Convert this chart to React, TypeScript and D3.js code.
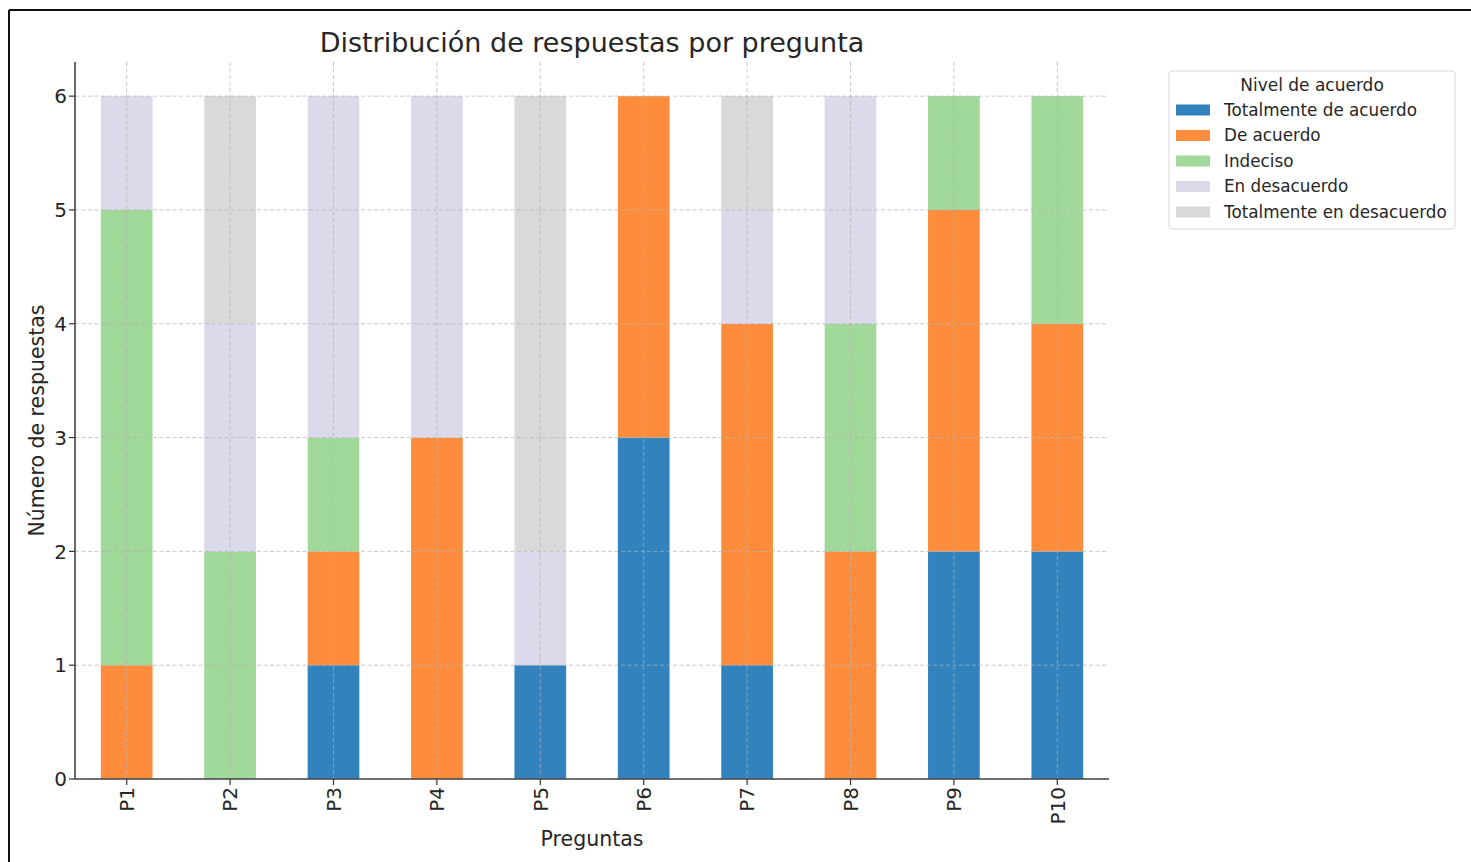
import React from "react";
import * as d3 from "d3";

const questions = ["P1", "P2", "P3", "P4", "P5", "P6", "P7", "P8", "P9", "P10"];
const levels = [
  "Totalmente de acuerdo",
  "De acuerdo",
  "Indeciso",
  "En desacuerdo",
  "Totalmente en desacuerdo",
];
const totalmenteDeAcuerdo = [0, 0, 1, 0, 1, 3, 1, 0, 2, 2];
const deAcuerdo = [1, 0, 1, 3, 0, 3, 3, 2, 3, 2];
const indeciso = [4, 2, 1, 0, 0, 0, 0, 2, 1, 2];
const enDesacuerdo = [1, 2, 3, 3, 1, 0, 1, 2, 0, 0];
const totalmenteEnDesacuerdo = [0, 2, 0, 0, 4, 0, 1, 0, 0, 0];
const colors = ["#3182bd", "#fd8d3c", "#a1d99b", "#dadaeb", "#d9d9d9"];
const yTicks = [0, 1, 2, 3, 4, 5, 6];

const series = [totalmenteDeAcuerdo, deAcuerdo, indeciso, enDesacuerdo, totalmenteEnDesacuerdo];

export default function App() {
  const W = 1471, H = 862;
  const left = 75, right = 1109, top = 62, bottom = 779;
  const x = d3.scaleLinear().domain([-0.5, questions.length - 0.5]).range([left, right]);
  const y = d3.scaleLinear().domain([0, 6.3]).range([bottom, top]);
  const bw = (x(0.25) - x(-0.25));
  const rows = questions.map((q, i) => {
    const o: any = { q };
    levels.forEach((l, k) => (o[l] = series[k][i]));
    return o;
  });
  const stacked = d3.stack().keys(levels)(rows);
  const font = "DejaVu Sans, sans-serif";
  const txt = "#262626";
  return (
    <svg width={W} height={H} style={{ position: "absolute", left: 0, top: 0 }} fontFamily={font}>
      <rect x={0} y={0} width={W} height={H} fill="#fff" />
      {/* bars */}
      {stacked.map((s, k) => (
        <g key={k} fill={colors[k]}>
          {s.map((d, i) =>
            d[1] - d[0] > 0 ? (
              <rect key={i} x={x(i) - bw / 2} y={y(d[1])} width={bw} height={y(d[0]) - y(d[1])} />
            ) : null
          )}
        </g>
      ))}
      {/* grid */}
      <g stroke="#b0b0b0" strokeOpacity={0.7} strokeWidth={1} strokeDasharray="4,2.5">
        {yTicks.map((t) => (
          <line key={"gy" + t} x1={left} x2={right} y1={y(t)} y2={y(t)} />
        ))}
        {questions.map((q, i) => (
          <line key={"gx" + i} x1={x(i)} x2={x(i)} y1={top} y2={bottom} />
        ))}
      </g>
      {/* spines */}
      <line x1={left} x2={left} y1={top} y2={bottom} stroke="#444" strokeWidth={1.6} />
      <line x1={left} x2={right} y1={bottom} y2={bottom} stroke="#444" strokeWidth={1.6} />
      {/* y ticks */}
      {yTicks.map((t) => (
        <g key={"yt" + t}>
          <line x1={left - 6} x2={left} y1={y(t)} y2={y(t)} stroke="#333" strokeWidth={1.2} />
          <text x={left - 8} y={y(t)} dy="0.36em" textAnchor="end" fontSize={20} fill={txt}>
            {t}
          </text>
        </g>
      ))}
      {/* x ticks */}
      {questions.map((q, i) => (
        <g key={"xt" + i}>
          <line x1={x(i)} x2={x(i)} y1={bottom} y2={bottom + 6} stroke="#333" strokeWidth={1.2} />
          <text
            transform={`translate(${x(i)},${bottom + 8}) rotate(-90)`}
            textAnchor="end"
            dy="0.36em"
            fontSize={20}
            fill={txt}
          >
            {q}
          </text>
        </g>
      ))}
      {/* labels */}
      <text x={(left + right) / 2} y={52} textAnchor="middle" fontSize={27} fill={txt}>
        Distribución de respuestas por pregunta
      </text>
      <text x={(left + right) / 2} y={846} textAnchor="middle" fontSize={20.5} fill={txt}>
        Preguntas
      </text>
      <text
        transform={`translate(44,${(top + bottom) / 2}) rotate(-90)`}
        textAnchor="middle"
        fontSize={20.5}
        fill={txt}
      >
        Número de respuestas
      </text>
      {/* legend */}
      <rect x={1169} y={71} width={286} height={158} rx={3} fill="#fff" stroke="#d8d8d8" strokeWidth={1} />
      <text x={1312} y={91} textAnchor="middle" fontSize={17} fill={txt}>
        Nivel de acuerdo
      </text>
      {levels.map((l, k) => (
        <g key={"lg" + k}>
          <rect x={1176} y={110 + k * 25.5 - 5.5} width={34} height={11} fill={colors[k]} />
          <text x={1224} y={110 + k * 25.5} dy="0.35em" fontSize={16.8} fill={txt}>
            {l}
          </text>
        </g>
      ))}
      {/* frame */}
      <line x1={9} x2={W} y1={10} y2={10} stroke="#111" strokeWidth={2} />
      <line x1={9} x2={9} y1={10} y2={H} stroke="#111" strokeWidth={2} />
    </svg>
  );
}
